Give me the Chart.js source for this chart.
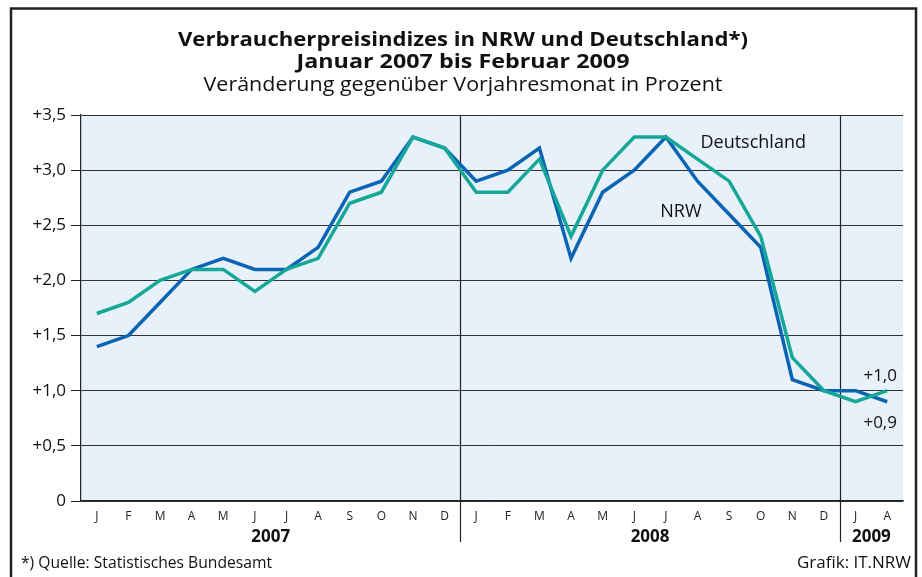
<!DOCTYPE html>
<html><head><meta charset="utf-8">
<script src="https://cdn.jsdelivr.net/npm/chart.js@4.4.0/dist/chart.umd.min.js"></script>
<style>html,body{margin:0;padding:0;background:#fff}#wrap{width:922px;height:577px}</style>
</head><body><div id="wrap"><canvas id="c" width="922" height="577"></canvas></div>
<script>
const months = ['J','F','M','A','M','J','J','A','S','O','N','D','J','F','M','A','M','J','J','A','S','O','N','D','J','A'];
const years = ['2007','2008','2009'];
const yearSpans = [[0,11],[12,23],[24,25]];
const nrw = [1.4,1.5,1.8,2.1,2.2,2.1,2.1,2.3,2.8,2.9,3.3,3.2, 2.9,3.0,3.2,2.2,2.8,3.0,3.3,2.9,2.6,2.3,1.1,1.0, 1.0,0.9];
const deutschland = [1.7,1.8,2.0,2.1,2.1,1.9,2.1,2.2,2.7,2.8,3.3,3.2, 2.8,2.8,3.1,2.4,3.0,3.3,3.3,3.1,2.9,2.4,1.3,1.0, 0.9,1.0];
const yTicks = [0,0.5,1.0,1.5,2.0,2.5,3.0,3.5];
const titleLines = ['Verbraucherpreisindizes in NRW und Deutschland*)','Januar 2007 bis Februar 2009'];
const subtitle = 'Veränderung gegenüber Vorjahresmonat in Prozent';
const source = '*) Quelle: Statistisches Bundesamt';
const credit = 'Grafik: IT.NRW';

const FONT = '"Open Sans", "Noto Sans", sans-serif';
const BLUE = '#0a64b4', GREEN = '#15a898';

function fmt(v){ if (Math.abs(v) < 1e-9) return '0'; return '+' + v.toFixed(1).replace('.', ','); }

function fitText(ctx, text, x, y, width, align){
  const w = ctx.measureText(text).width;
  const s = width / w;
  ctx.save(); ctx.translate(x, y); ctx.scale(s, 1); ctx.textAlign = align; ctx.fillText(text, 0, 0); ctx.restore();
}

const extras = {
  id: 'extras',
  beforeDraw(chart){
    const {ctx, chartArea:a} = chart;
    ctx.save();
    ctx.fillStyle = '#fff'; ctx.fillRect(0,0,chart.width,chart.height);
    ctx.fillStyle = '#e8f0fa'; ctx.fillRect(a.left,a.top,a.right-a.left,a.bottom-a.top);
    ctx.restore();
  },
  beforeDatasetsDraw(chart){
    const {ctx, chartArea:a, scales:{x}} = chart;
    ctx.save();
    ctx.strokeStyle = '#222'; ctx.lineWidth = 1.2;
    [11,23].forEach(i=>{
      const px = Math.round((x.getPixelForValue(i)+x.getPixelForValue(i+1))/2)+0.5;
      ctx.beginPath(); ctx.moveTo(px,a.top); ctx.lineTo(px,a.bottom+41); ctx.stroke();
    });
    ctx.restore();
  },
  afterDraw(chart){
    const {ctx, chartArea:a, scales:{x,y}} = chart;
    ctx.save();
    ctx.fillStyle = '#111';
    // year labels
    ctx.font = 'bold 17px ' + FONT; ctx.textAlign='center'; ctx.textBaseline='alphabetic';
    years.forEach((yr,k)=>{
      const [s,e] = yearSpans[k];
      const cx = (x.getPixelForValue(s)+x.getPixelForValue(e))/2;
      ctx.fillText(yr, cx, a.bottom+41);
    });
    // title
    const cx = 463;
    ctx.font = 'bold 20px ' + FONT;
    fitText(ctx, titleLines[0], cx, 46, 570, 'center');
    fitText(ctx, titleLines[1], cx, 68, 333, 'center');
    ctx.font = '20px ' + FONT;
    fitText(ctx, subtitle, cx, 91, 519, 'center');
    // series labels
    ctx.font = '18px ' + FONT; ctx.textAlign='left'; ctx.textBaseline='middle';
    ctx.fillText('Deutschland', x.getPixelForValue(19)+3, y.getPixelForValue(3.25));
    ctx.textAlign='center';
    ctx.fillText('NRW', x.getPixelForValue(18)+15, y.getPixelForValue(2.62));
    ctx.font = '17px ' + FONT;
    ctx.fillText(fmt(deutschland[25]), x.getPixelForValue(25)-7, y.getPixelForValue(1.13));
    ctx.fillText(fmt(nrw[25]), x.getPixelForValue(25)-7, y.getPixelForValue(0.71));
    // footer
    ctx.font = '16px ' + FONT; ctx.textBaseline='alphabetic';
    fitText(ctx, source, 21, 568, 251, 'left');
    fitText(ctx, credit, 911, 568, 114, 'right');
    // frame
    ctx.strokeStyle = '#222'; ctx.lineWidth = 2.5;
    ctx.strokeRect(11, 8.5, 905, 620);
    ctx.restore();
  }
};

new Chart(document.getElementById('c'), {
  type: 'line',
  data: {
    labels: months,
    datasets: [
      {label:'NRW', data: nrw, borderColor: BLUE, borderWidth: 3.5, pointRadius: 0, tension: 0, order: 2},
      {label:'Deutschland', data: deutschland, borderColor: GREEN, borderWidth: 3.5, pointRadius: 0, tension: 0, order: 1}
    ]
  },
  options: {
    responsive: false, animation: false,
    layout: {padding: {left: 10, right: 19, top: 115, bottom: 36}},
    plugins: {legend:{display:false}, title:{display:false}, tooltip:{enabled:false}},
    scales: {
      x: {
        offset: true,
        grid: {display: false, drawTicks: false},
        border: {display: true, color: '#222', width: 1.2},
        ticks: {color:'#222', font:{family: FONT, size: 12}, padding: 8, maxRotation: 0, autoSkip: false},
        afterFit(s){ s.height = 40; }
      },
      y: {
        min: 0, max: 3.5,
        afterBuildTicks(s){ s.ticks = yTicks.map(v=>({value:v})); },
        grid: {color: '#333', lineWidth: 1, tickLength: 10, drawTicks: true, tickColor:'#222'},
        border: {display: true, color: '#222', width: 1.2},
        ticks: {color:'#111', font:{family: FONT, size: 17}, padding: 5, callback: v => fmt(v)},
        afterFit(s){ s.width = 71; }
      }
    }
  },
  plugins: [extras]
});
</script></body></html>
